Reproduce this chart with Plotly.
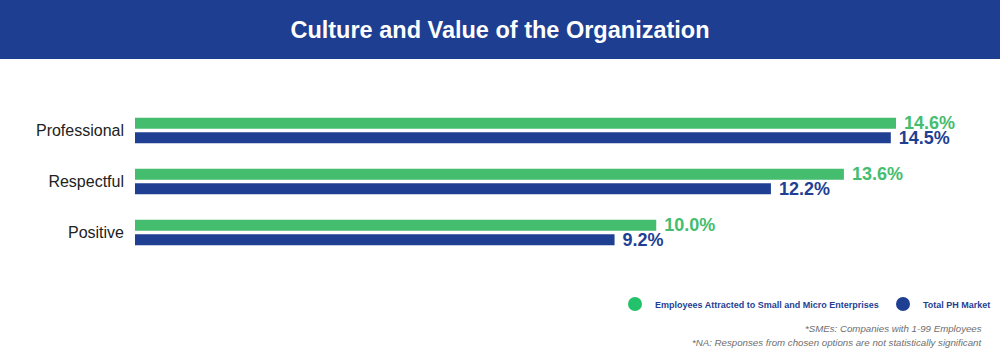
import plotly.graph_objects as go

categories = ["Professional", "Respectful", "Positive"]
sme_values = [14.6, 13.6, 10.0]
total_values = [14.5, 12.2, 9.2]
series_names = ["Employees Attracted to Small and Micro Enterprises", "Total PH Market"]
title_text = "Culture and Value of the Organization"
footnotes = ["*SMEs: Companies with 1-99 Employees",
             "*NA: Responses from chosen options are not statistically significant"]

GREEN = "#45BD6E"
BLUE = "#1F3F93"
W, H = 1000, 357
ML, MR, MT, MB = 135, 31, 105, 99
PW = W - ML - MR
PH = H - MT - MB

fig = go.Figure()
for vals, col in [(sme_values, GREEN), (total_values, BLUE)]:
    fig.add_trace(go.Bar(
        y=categories, x=vals, orientation="h",
        marker=dict(color=col, line=dict(width=0)),
        text=[f" {v:.1f}%" for v in vals], textposition="outside",
        constraintext="none",
        textfont=dict(color=col, size=18, family="Liberation Sans", weight="bold"),
        cliponaxis=False, showlegend=False, hoverinfo="skip",
    ))

# legend entries with circle symbols (one legend each, placed separately)
legend_cols = ["#22C16A", BLUE]
legend_ids = ["legend", "legend2"]
for name, col, lg in zip(series_names, legend_cols, legend_ids):
    fig.add_trace(go.Scatter(
        x=[None], y=[None], mode="markers", name=name, legend=lg,
        marker=dict(symbol="circle", size=14, color=col),
    ))

# title banner
fig.add_shape(type="rect", xref="paper", yref="paper",
              x0=-ML / PW, x1=(W - ML) / PW,
              y0=1 + (MT - 59) / PH, y1=1 + MT / PH,
              fillcolor="#1E3E92", line=dict(width=0), layer="below")

for i, t in enumerate(footnotes):
    fig.add_annotation(text=t, xref="paper", yref="paper",
                       x=(984 - ML) / PW, xanchor="right",
                       y=1 - (328 + 14 * i - MT) / PH, yanchor="middle",
                       showarrow=False,
                       font=dict(size=9.7, color="#6E6E6E", family="Liberation Sans", style="italic"))

legend_common = dict(orientation="h", yanchor="middle", y=1 - (304 - MT) / PH,
                     xanchor="left",
                     font=dict(size=9, color=BLUE, family="Liberation Sans", weight="bold"),
                     bgcolor="rgba(0,0,0,0)", itemsizing="trace")

fig.update_layout(
    width=W, height=H,
    margin=dict(l=ML, r=MR, t=MT, b=MB, autoexpand=False),
    paper_bgcolor="white", plot_bgcolor="white",
    barmode="group", bargap=0.431, bargroupgap=0.24,
    title=dict(text=title_text, x=0.5, xanchor="center", xref="container",
               y=1 - 30 / H, yanchor="middle", yref="container",
               font=dict(color="white", size=23.5, family="Liberation Sans", weight="bold")),
    xaxis=dict(range=[0, 16], visible=False),
    yaxis=dict(range=[2.5, -0.5], showgrid=False, zeroline=False, showline=False,
               ticks="", ticklabelstandoff=10,
               tickfont=dict(size=16, color="#222222", family="Liberation Sans")),
    legend=dict(x=(615 - ML) / PW, **legend_common),
    legend2=dict(x=(883 - ML) / PW, **legend_common),
    showlegend=True,
)

fig.write_html("out.html", config={"displayModeBar": False},
               post_script="document.body.style.margin='0';document.body.style.overflow='hidden';")
